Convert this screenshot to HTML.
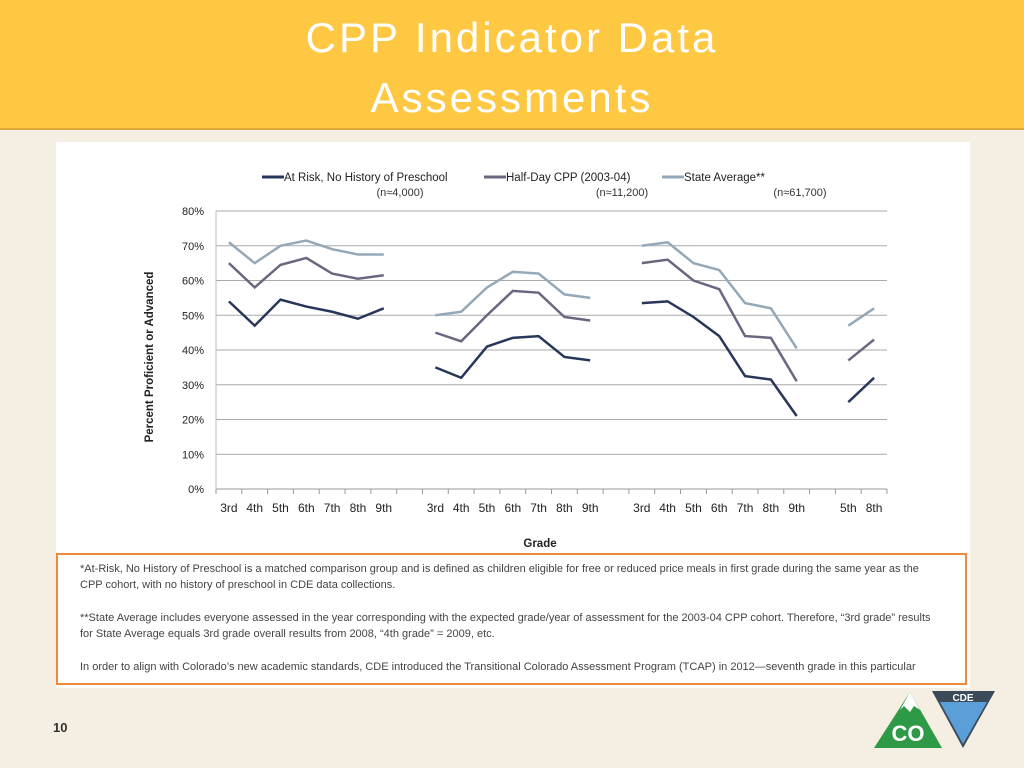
<!DOCTYPE html>
<html><head><meta charset="utf-8">
<style>
body{margin:0;width:1024px;height:768px;overflow:hidden;background:#f4efe2;font-family:"Liberation Sans",sans-serif;position:relative}
#hdr{position:absolute;left:0;top:0;width:1024px;height:128px;background:#fec843;border-bottom:2px solid #e0a83a}
#hdr div{position:absolute;width:1024px;text-align:center;color:#fff;font-size:42px;letter-spacing:3px}
#panel{position:absolute;left:56px;top:142px;width:914px;height:546px;background:#fff}
#note{position:absolute;left:56px;top:553px;width:911px;height:132px;border:2px solid #ef8a3a;font-size:11px;color:#444;box-sizing:border-box;padding:6px 22px;line-height:16px}
#note p{margin:0 0 17px 0}
</style></head><body>
<div id="hdr">
<div style="top:14px">CPP Indicator Data</div>
<div style="top:74px">Assessments</div>
</div>
<div id="panel"></div>
<svg id="chart" width="1024" height="768" style="position:absolute;left:0;top:0"></svg>
<div id="note">
<p>*At-Risk, No History of Preschool is a matched comparison group and is defined as children eligible for free or reduced price meals in first grade during the same year as the CPP cohort, with no history of preschool in CDE data collections.</p>
<p>**State Average includes everyone assessed in the year corresponding with the expected grade/year of assessment for the 2003-04 CPP cohort. Therefore, “3rd grade” results for State Average equals 3rd grade overall results from 2008, “4th grade” = 2009, etc.</p>
<p>In order to align with Colorado’s new academic standards, CDE introduced the Transitional Colorado Assessment Program (TCAP) in 2012—seventh grade in this particular</p>
</div>
<div style="position:absolute;left:53px;top:720px;font-size:13px;font-weight:bold;color:#333">10</div>
<svg width="130" height="60" style="position:absolute;left:870px;top:688px">
<polygon points="40,4 72,60 4,60" fill="#2e9a48"/>
<polygon points="40,4 50,22 44,18 40,24 34,18 30,22" fill="#fff"/>
<text x="38" y="53" font-size="22" font-weight="bold" fill="#fff" text-anchor="middle" font-family="Liberation Sans">CO</text>
<polygon points="62,3 125,3 93,60" fill="#3a4a58"/>
<polygon points="70,14 117,14 93,56" fill="#5a9fd8"/>
<text x="93" y="13" font-size="10" font-weight="bold" fill="#fff" text-anchor="middle" font-family="Liberation Sans">CDE</text>
</svg>
<script>
const categories=["3rd","4th","5th","6th","7th","8th","9th","","3rd","4th","5th","6th","7th","8th","9th","","3rd","4th","5th","6th","7th","8th","9th","","5th","8th"];
const atRisk=[54,47,54.5,52.5,51,49,52,null,35,32,41,43.5,44,38,37,null,53.5,54,49.5,44,32.5,31.5,21,null,25,32];
const halfDay=[65,58,64.5,66.5,62,60.5,61.5,null,45,42.5,50,57,56.5,49.5,48.5,null,65,66,60,57.5,44,43.5,31,null,37,43];
const stateAvg=[71,65,70,71.5,69,67.5,67.5,null,50,51,58,62.5,62,56,55,null,70,71,65,63,53.5,52,40.5,null,47,52];
const yTicks=[0,10,20,30,40,50,60,70,80];
const ns="http://www.w3.org/2000/svg",svg=document.getElementById('chart');
const X0=216,X1=887,Y0=489,Y1=211;
const bw=(X1-X0)/categories.length;
const x=i=>X0+(i+0.5)*bw, y=v=>Y0-(v/80)*(Y0-Y1);
function mk(t,a){const e=document.createElementNS(ns,t);for(const k in a)e.setAttribute(k,a[k]);svg.appendChild(e);return e;}
yTicks.forEach(v=>{
 const g=mk('line',{x1:X0,x2:X1,y1:y(v),y2:y(v),stroke:v==0?'#999':'#aaa','stroke-width':1});
 
 
 const t=mk('text',{x:X0-12,y:y(v)+4,'font-size':11,'text-anchor':'end',fill:'#222'});t.textContent=v+'%';
 
 
});
mk('line',{x1:X0,x2:X0,y1:Y1,y2:Y0,stroke:'#bbb'});
for(let i=0;i<=categories.length;i++){mk('line',{x1:X0+i*bw,x2:X0+i*bw,y1:Y0,y2:Y0+5,stroke:'#999'});}
categories.forEach((c,i)=>{if(!c)return;const t=mk('text',{x:x(i),y:512,'font-size':12,'text-anchor':'middle',fill:'#222'});t.textContent=c;
 
 });
const series=[[atRisk,'#273659','series-at-risk'],[halfDay,'#6b6680','series-half-day-cpp'],[stateAvg,'#94a8b8','series-state-average']];
series.forEach(([d,col,name])=>{
 let segs=[],cur=[];
 d.forEach((v,i)=>{if(v==null){if(cur.length)segs.push(cur);cur=[];}else cur.push(x(i)+','+y(v));});
 if(cur.length)segs.push(cur);
 segs.forEach(s=>{const p=mk('polyline',{points:s.join(' '),fill:'none',stroke:col,'stroke-width':2.5});
 
 });
});
const leg=[['At Risk, No History of Preschool','(n≈4,000)',262,'#273659'],['Half-Day CPP (2003-04)','(n≈11,200)',484,'#6b6680'],['State Average**','(n≈61,700)',662,'#94a8b8']];
leg.forEach(([l,n,lx,col])=>{
 const ln=mk('line',{x1:lx,x2:lx+22,y1:177,y2:177,stroke:col,'stroke-width':3});
 
 
 const t=mk('text',{x:lx+22,y:181,'font-size':11.5,fill:'#222'});t.textContent=l;
 
 
 const t2=mk('text',{x:lx+138,y:196,'font-size':11,fill:'#333','text-anchor':'middle'});t2.textContent=n;
 
 
});
const xt=mk('text',{x:540,y:547,'font-size':11.5,'font-weight':'bold','text-anchor':'middle',fill:'#222'});xt.textContent='Grade';


const yt=mk('text',{x:0,y:0,'font-size':11.5,'font-weight':'bold','text-anchor':'middle',fill:'#222',transform:'translate(153,357) rotate(-90)'});yt.textContent='Percent Proficient or Advanced';


</script>
</body></html>
